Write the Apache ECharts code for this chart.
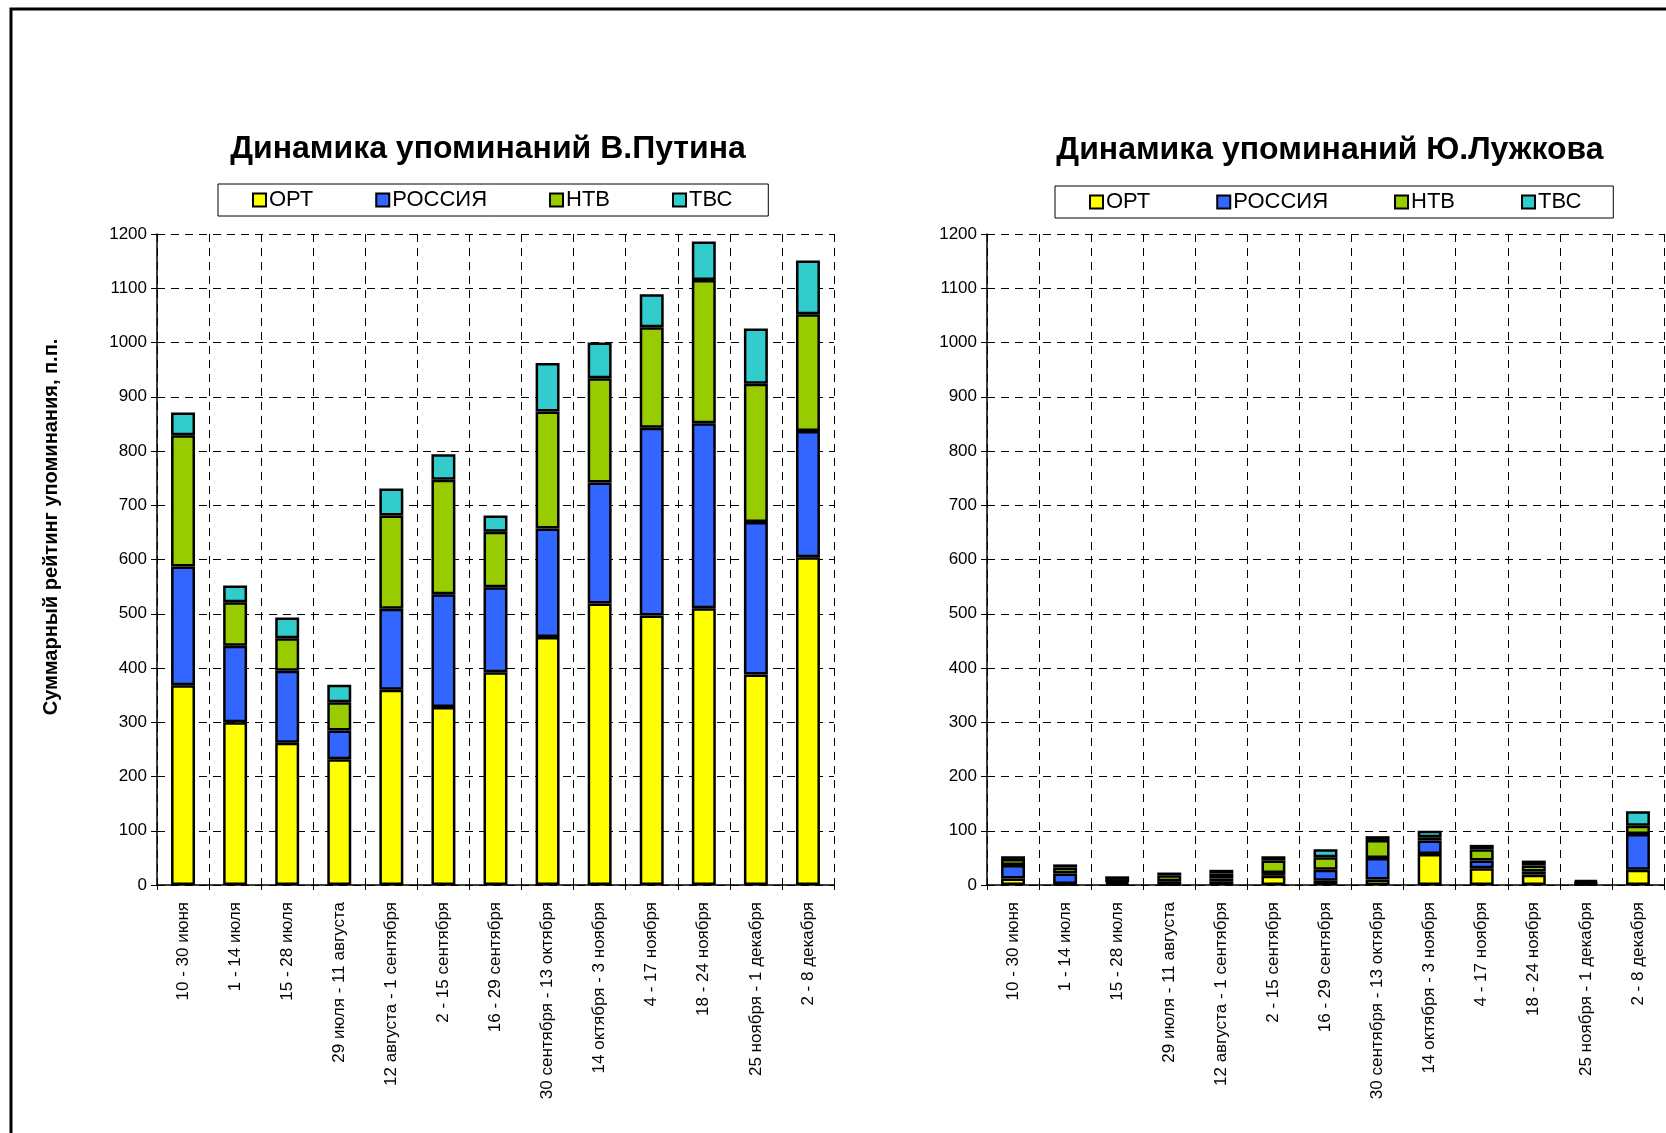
<!DOCTYPE html>
<html>
<head>
<meta charset="utf-8">
<script src="https://cdn.jsdelivr.net/npm/echarts@6/dist/echarts.min.js"></script>
<style>
  html, body { margin: 0; padding: 0; background: #fff; }
  #chart { width: 1666px; height: 1133px; }
</style>
</head>
<body>
<div id="chart"></div>
<script>
const periods = [
  '10 - 30 июня', '1 - 14 июля', '15 - 28 июля', '29 июля - 11 августа',
  '12 августа - 1 сентября', '2 - 15 сентября', '16 - 29 сентября',
  '30 сентября - 13 октября', '14 октября - 3 ноября', '4 - 17 ноября',
  '18 - 24 ноября', '25 ноября - 1 декабря', '2 - 8 декабря'
]
const channels = ['ОРТ', 'РОССИЯ', 'НТВ', 'ТВС']
const channelColors = ['#ffff00', '#3366ff', '#99cc00', '#33cccc']

// Путин
const putinORT = [368, 300, 262, 232, 360, 328, 392, 457, 519, 497, 510, 388, 604]
const putinRussia = [219, 141, 133, 53, 149, 208, 157, 200, 223, 346, 341, 281, 233]
const putinNTV = [242, 80, 60, 52, 172, 211, 102, 216, 192, 185, 264, 255, 215]
const putinTVS = [42, 31, 38, 32, 50, 47, 30, 89, 66, 61, 71, 102, 99]

// Лужков
const luzhkovORT = [12, 2, 2, 2, 7, 17, 8, 10, 57, 31, 19, 2, 28]
const luzhkovRussia = [25, 19, 3, 5, 5, 5, 20, 40, 25, 14, 6, 2, 66]
const luzhkovNTV = [11, 11, 6, 11, 9, 23, 23, 33, 6, 21, 11, 2, 15]
const luzhkovTVS = [5, 6, 5, 5, 7, 8, 15, 7, 12, 8, 9, 3, 27]

const yTicks = { min: 0, max: 1200, interval: 100 }

const chart = echarts.init(document.getElementById('chart'))

const font = 'Liberation Sans, Arial, sans-serif'

const makeXAxis = (gridIndex) => ({
  type: 'category',
  gridIndex: gridIndex,
  data: periods,
  axisLine: { lineStyle: { color: '#000', width: 1.5 } },
  axisTick: { show: true, length: 5, interval: 0, lineStyle: { color: '#000' } },
  axisLabel: {
    rotate: 90,
    interval: 0,
    margin: 17,
    color: '#000',
    fontSize: 17,
    fontFamily: font,
  },
  splitLine: {
    show: true,
    interval: 0,
    lineStyle: { color: '#000', type: [8, 6], width: 1 },
  },
})

const makeYAxis = (gridIndex) => ({
  type: 'value',
  gridIndex: gridIndex,
  min: yTicks.min,
  max: yTicks.max,
  interval: yTicks.interval,
  axisLine: { show: true, lineStyle: { color: '#000', width: 1.5 } },
  axisTick: { show: true, length: 6, lineStyle: { color: '#000' } },
  axisLabel: {
    color: '#000',
    fontSize: 17,
    margin: 10,
    fontFamily: font,
    formatter: (v) => String(v),
  },
  splitLine: {
    show: true,
    lineStyle: { color: '#000', type: [8, 6], width: 1 },
  },
})

const makeSeries = (gridIndex, lists) =>
  channels.map((name, i) => ({
    name: name,
    type: 'bar',
    stack: 'total' + gridIndex,
    xAxisIndex: gridIndex,
    yAxisIndex: gridIndex,
    barWidth: '46%',
    itemStyle: {
      color: channelColors[i],
      borderColor: '#000',
      borderWidth: 2.5,
    },
    emphasis: { disabled: true },
    data: lists[i],
  }))

const makeLegend = (left, top, gap, rightPad) => ({
  left: left,
  top: top,
  orient: 'horizontal',
  data: channels,
  icon: 'rect',
  itemWidth: 13,
  itemHeight: 13,
  itemGap: gap,
  padding: [5, rightPad, 5, 34],
  borderColor: '#000',
  borderWidth: 1,
  selectedMode: false,
  textStyle: { color: '#000', fontSize: 22, fontFamily: font, padding: [0, 0, 0, -2] },
})

const option = {
  backgroundColor: '#fff',
  animation: false,
  color: channelColors,
  graphic: [
    {
      type: 'rect',
      shape: { x: 11, y: 9, width: 2000, height: 2000 },
      style: { fill: 'none', stroke: '#000', lineWidth: 3 },
      silent: true,
    },
    {
      type: 'text',
      x: 51,
      y: 527,
      rotation: Math.PI / 2,
      silent: true,
      style: {
        text: 'Суммарный рейтинг упоминания, п.п.',
        font: 'bold 20px ' + font,
        fill: '#000',
        align: 'center',
        verticalAlign: 'middle',
      },
    },
  ],
  title: [
    {
      text: 'Динамика упоминаний В.Путина',
      left: 488,
      top: 133,
      textAlign: 'center',
      padding: 0,
      textStyle: { fontSize: 32, fontWeight: 'bold', color: '#000', fontFamily: font },
    },
    {
      text: 'Динамика упоминаний Ю.Лужкова',
      left: 1330,
      top: 134,
      textAlign: 'center',
      padding: 0,
      textStyle: { fontSize: 32, fontWeight: 'bold', color: '#000', fontFamily: font },
    },
  ],
  legend: [makeLegend(218, 184, 62, 36), makeLegend(1055, 186, 66, 32)],
  grid: [
    { left: 157, right: 1666 - 834, top: 234, bottom: 1133 - 885 },
    { left: 987, right: 2, top: 234, bottom: 1133 - 885 },
  ],
  xAxis: [makeXAxis(0), makeXAxis(1)],
  yAxis: [makeYAxis(0), makeYAxis(1)],
  series: [
    ...makeSeries(0, [putinORT, putinRussia, putinNTV, putinTVS]),
    ...makeSeries(1, [luzhkovORT, luzhkovRussia, luzhkovNTV, luzhkovTVS]),
  ],
}

chart.setOption(option)
</script>
</body>
</html>
